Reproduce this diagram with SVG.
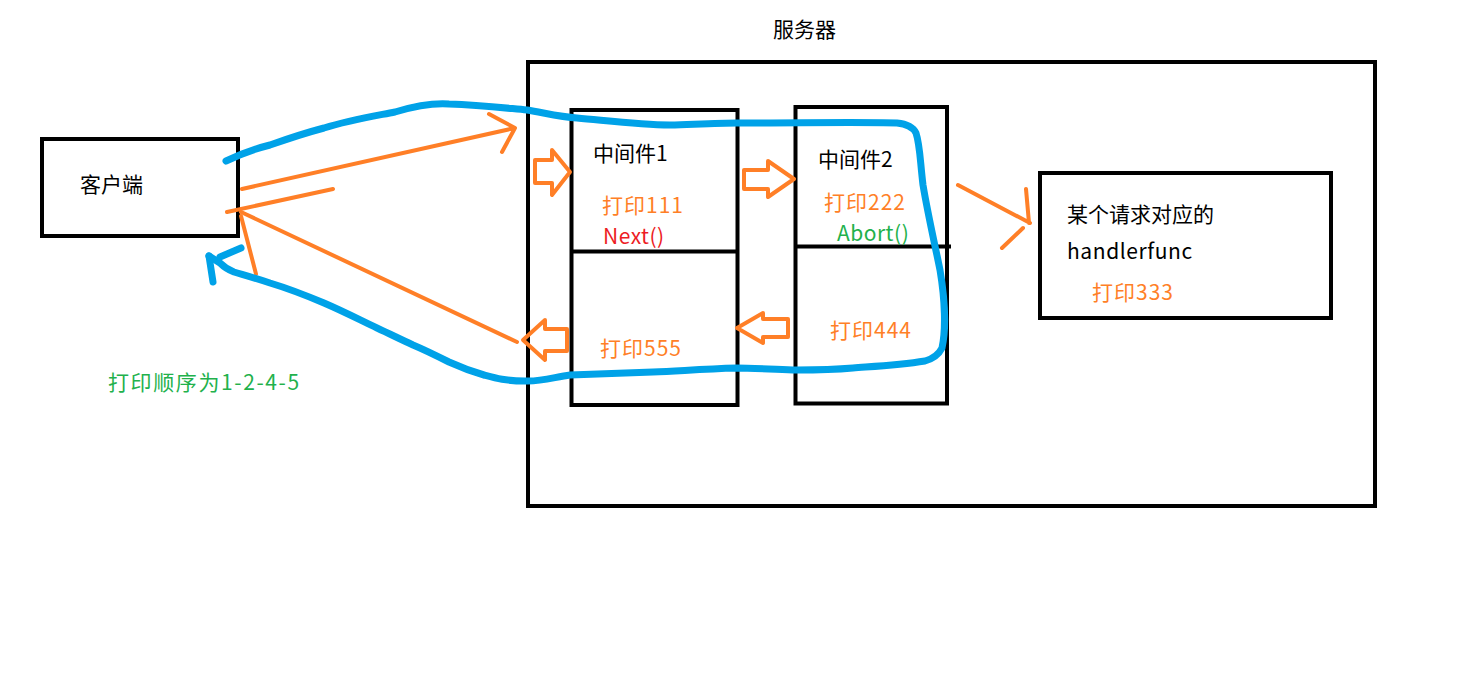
<svg xmlns="http://www.w3.org/2000/svg" width="1480" height="676" viewBox="0 0 1480 676">
<style>
.box{fill:none;stroke:#000;stroke-width:4}
.t{font-family:"Microsoft YaHei","Noto Sans CJK SC","Noto Sans",sans-serif;font-size:21px}
.k{fill:#000}
.o{fill:#FF7F27;letter-spacing:1px}
.r{fill:#ED1C24;letter-spacing:0.5px}
.g{fill:#22B14C;letter-spacing:0.5px}
.ol{fill:none;stroke:#FF7F27;stroke-width:4;stroke-linecap:round;stroke-linejoin:round}
.bl{fill:none;stroke:#00A2E8;stroke-width:7;stroke-linecap:round;stroke-linejoin:round}
</style>
<rect width="1480" height="676" fill="#fff"/>
<g id="server">
<rect class="box" x="528" y="62" width="847" height="444"/>
<text class="t k" x="773" y="37">服务器</text>
</g>
<g id="client">
<rect class="box" x="42" y="139" width="196" height="97"/>
<text class="t k" x="80" y="192">客户端</text>
</g>
<g id="middleware1">
<rect class="box" x="571.5" y="110" width="166" height="295"/>
<line class="box" x1="571.5" y1="251.5" x2="737.5" y2="251.5"/>
<text class="t k" x="593" y="161">中间件1</text>
<text class="t o" x="602" y="213">打印111</text>
<text class="t r" x="603" y="244">Next()</text>
<text class="t o" x="600" y="356">打印555</text>
</g>
<g id="middleware2">
<rect class="box" x="795.5" y="107" width="151.5" height="296.5"/>
<line class="box" x1="795.5" y1="246.5" x2="951" y2="246.5"/>
<text class="t k" x="818" y="167">中间件2</text>
<text class="t o" x="824" y="210">打印222</text>
<text class="t g" x="837" y="241">Abort()</text>
<text class="t o" x="830" y="338">打印444</text>
</g>
<g id="handler">
<rect class="box" x="1040" y="173" width="291" height="145"/>
<text class="t k" x="1067" y="222">某个请求对应的</text>
<text class="t k" x="1067" y="259" style="letter-spacing:0.6px">handlerfunc</text>
<text class="t o" x="1092" y="300">打印333</text>
</g>
<g id="note">
<text class="t g" x="108" y="390" style="letter-spacing:1.6px">打印顺序为1-2-4-5</text>
</g>
<g id="connectors">
<path class="ol" d="M242 189 L515 128 M489 114 L515 128 L502 152"/>
<path class="ol" d="M227 212 L333 189"/>
<path class="ol" d="M241 212 L517 342"/>
<path class="ol" d="M241 216 L256 274"/>
<path class="ol" d="M958 185 L1030 223 M1026 189 L1029 223 M1023 228 L1002 248"/>
<path class="ol" d="M535 160 L552 160 L552 150 L570 172 L552 195 L552 183 L535 183 Z"/>
<path class="ol" d="M744 170 L768 170 L768 161 L794 179 L768 197 L768 189 L744 189 Z"/>
<path class="ol" d="M788 319 L763 319 L763 313 L737 328 L763 343 L763 337 L788 337 Z"/>
<path class="ol" d="M567 329 L545 329 L545 320 L523 340 L545 360 L545 351 L567 351 Z"/>
<path class="bl" d="M226 161 C245 152 258 148 270 145 C290 138 305 133 324 128 C350 120 375 116 395 112 C415 106 435 103 449 104 C480 105 505 108 527 110 C545 113 560 117 577 118 C610 121 640 125 670 125 C700 124 720 123 737 123 C800 123 860 122 897 123 C907 124 913 127 916 133 C920 145 920 160 923 185 C928 215 935 245 940 270 C945 300 946 330 942 348 C938 356 932 359 925 361 C900 365 880 366 853 368 C830 370 810 370 797 370 C770 369 750 368 737 368 C700 369 680 371 653 372 C620 373 595 374 570 375 C555 377 540 382 525 381 C505 381 495 378 484 375 C470 371 460 367 449 362 C435 355 425 350 413 345 C400 339 390 334 377 328 C360 320 345 312 324 303 C305 295 290 289 270 283 C255 278 244 275 234 272 C226 269 223 266 220 263 L209 256"/>
<path class="bl" d="M209 256 L213 282 M220 257 L241 248"/>
</g>
</svg>
